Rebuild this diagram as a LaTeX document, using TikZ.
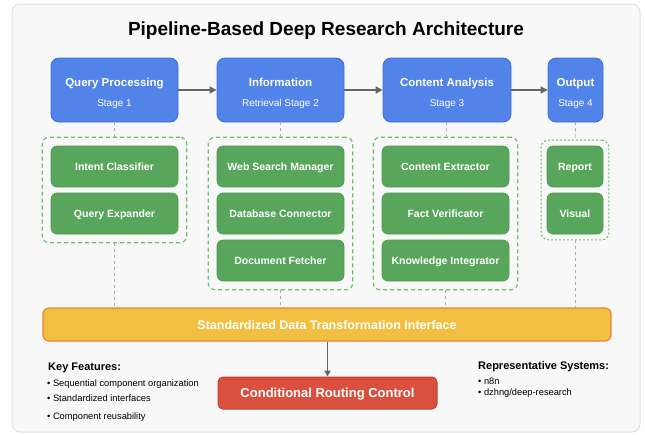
\documentclass[tikz,border=0pt]{standalone}
\usepackage{fontspec}
\setmainfont{Liberation Sans}
\usepackage{xcolor}
\usepackage{tikz}
\usetikzlibrary{arrows.meta,fit}

\definecolor{stageblue}{HTML}{5283E9}
\definecolor{stageline}{HTML}{3F6DD6}
\definecolor{compgreen}{HTML}{58A65C}
\definecolor{compline}{HTML}{4D9852}
\definecolor{groupgreen}{HTML}{6DBE70}
\definecolor{busyellow}{HTML}{F2BF43}
\definecolor{busorange}{HTML}{E0873A}
\definecolor{routered}{HTML}{D9503F}
\definecolor{routeline}{HTML}{C4402F}
\definecolor{panelgray}{HTML}{F8F8F8}
\definecolor{panelline}{HTML}{E0E0E0}
\definecolor{flowgray}{HTML}{666666}
\definecolor{linkgray}{HTML}{ABABAB}

\begin{document}
\begin{tikzpicture}[x=1pt,y=-1pt,
  stagebox/.style={draw=stageline,fill=stageblue,line width=0.8pt,rounded corners=8pt,minimum height=64pt,inner sep=0pt},
  stagename/.style={anchor=base,inner sep=0pt,text=white,font=\fontsize{11.5}{13}\selectfont\bfseries},
  stagenum/.style={anchor=base,inner sep=0pt,text=white,font=\fontsize{10}{12}\selectfont},
  comp/.style={draw=compline,fill=compgreen,line width=0.6pt,rounded corners=6pt,minimum height=41pt,inner sep=0pt,
    text=white,text height=7.5pt,text depth=0pt,font=\fontsize{10.5}{12}\selectfont\bfseries},
  group/.style={draw=groupgreen,line width=1.2pt,dash pattern=on 4pt off 3pt,rounded corners=7pt,inner sep=8.5pt},
  link/.style={draw=linkgray,line width=0.9pt,dash pattern=on 3pt off 3pt},
  flow/.style={draw=flowgray,line width=2pt,-{Triangle[length=7pt,width=7pt]}},
  notehead/.style={anchor=base west,inner sep=0pt,font=\fontsize{11}{13}\selectfont\bfseries},
  note/.style={anchor=base west,inner sep=0pt,font=\fontsize{9.3}{11}\selectfont}
]
\useasboundingbox (0,0) rectangle (645,434);

% The panel
\draw[fill=panelgray,draw=panelline,line width=1pt,rounded corners=8pt] (12,4) rectangle (640,432);
\node[anchor=base,font=\fontsize{19}{22}\selectfont\bfseries] (title) at (326,35) {Pipeline-Based Deep Research Architecture};

% The stages
\node[stagebox,minimum width=127pt] (qp) at (114.5,90) {};
\node[stagebox,minimum width=127pt] (ir) at (280.5,90) {};
\node[stagebox,minimum width=128pt] (ca) at (447,90) {};
\node[stagebox,minimum width=55pt] (out) at (575.5,90) {};
\node[stagename] (qp-name) at (114.5,86.5) {Query Processing};
\node[stagenum] (qp-num) at (114.5,106.5) {Stage 1};
\node[stagename] (ir-name) at (280.5,86.5) {Information};
\node[stagenum] (ir-num) at (280.5,106.5) {Retrieval Stage 2};
\node[stagename] (ca-name) at (447,86.5) {Content Analysis};
\node[stagenum] (ca-num) at (447,106.5) {Stage 3};
\node[stagename] (out-name) at (575.5,86.5) {Output};
\node[stagenum] (out-num) at (575.5,106.5) {Stage 4};

\draw[flow] (qp) -- (ir);
\draw[flow] (ir) -- (ca);
\draw[flow] (ca) -- (out);

% The components
\node[comp,minimum width=127pt] (ic) at (114.5,166.5) {Intent Classifier};
\node[comp,minimum width=127pt] (qe) at (114.5,213.5) {Query Expander};
\node[comp,minimum width=127pt] (ws) at (280.5,166.5) {Web Search Manager};
\node[comp,minimum width=127pt] (dc) at (280.5,213.5) {Database Connector};
\node[comp,minimum width=127pt] (df) at (280.5,260.5) {Document Fetcher};
\node[comp,minimum width=127pt] (ce) at (445.5,166.5) {Content Extractor};
\node[comp,minimum width=127pt] (fv) at (445.5,213.5) {Fact Verificator};
\node[comp,minimum width=127pt] (ki) at (445.5,260.5) {Knowledge Integrator};
\node[comp,minimum width=56pt] (rep) at (575,166.5) {Report};
\node[comp,minimum width=56pt] (vis) at (575,213.5) {Visual};

\node[group,fit=(ic)(qe)] (g1) {};
\node[group,fit=(ws)(df)] (g2) {};
\node[group,fit=(ce)(ki)] (g3) {};
\node[group,fit=(rep)(vis),inner sep=5.5pt,line width=1pt,dash pattern=on 2pt off 2pt] (g4) {};

% The interface and routing
\node[draw=busorange,fill=busyellow,line width=1.2pt,rounded corners=6pt,minimum width=568pt,minimum height=33pt,
  text=white,text height=9pt,text depth=0pt,font=\fontsize{12.5}{15}\selectfont\bfseries] (bus) at (327,324.5)
  {Standardized Data Transformation Interface};
\node[draw=routeline,fill=routered,line width=1pt,rounded corners=5pt,minimum width=219pt,minimum height=32pt,
  text=white,text height=9.3pt,text depth=0pt,font=\fontsize{13}{15}\selectfont\bfseries] (route) at (327.5,393)
  {Conditional Routing Control};

\draw[link] (qp) -- (g1);
\draw[link] (ir) -- (g2);
\draw[link] (ca) -- (g3);
\draw[link] (out) -- (g4);
\draw[link] (g1.south) -- (g1.south |- bus.north);
\draw[link] (g2.south) -- (g2.south |- bus.north);
\draw[link] (g3.south) -- (g3.south |- bus.north);
\draw[link] (g4.south) -- (g4.south |- bus.north);
\draw[draw=flowgray,line width=1.5pt,-{Triangle[length=6pt,width=6pt]}] (route.north |- bus.south) -- (route.north);

% The notes
\node[notehead] (kf) at (48,370) {Key Features:};
\node[note] (kf1) at (47,386) {• Sequential component organization};
\node[note] (kf2) at (47,401.5) {• Standardized interfaces};
\node[note] (kf3) at (47,419) {• Component reusability};
\node[notehead] (rs) at (478,369) {Representative Systems:};
\node[note] (rs1) at (478,384.5) {• n8n};
\node[note] (rs2) at (478,395.5) {• dzhng/deep-research};
\end{tikzpicture}
\end{document}
